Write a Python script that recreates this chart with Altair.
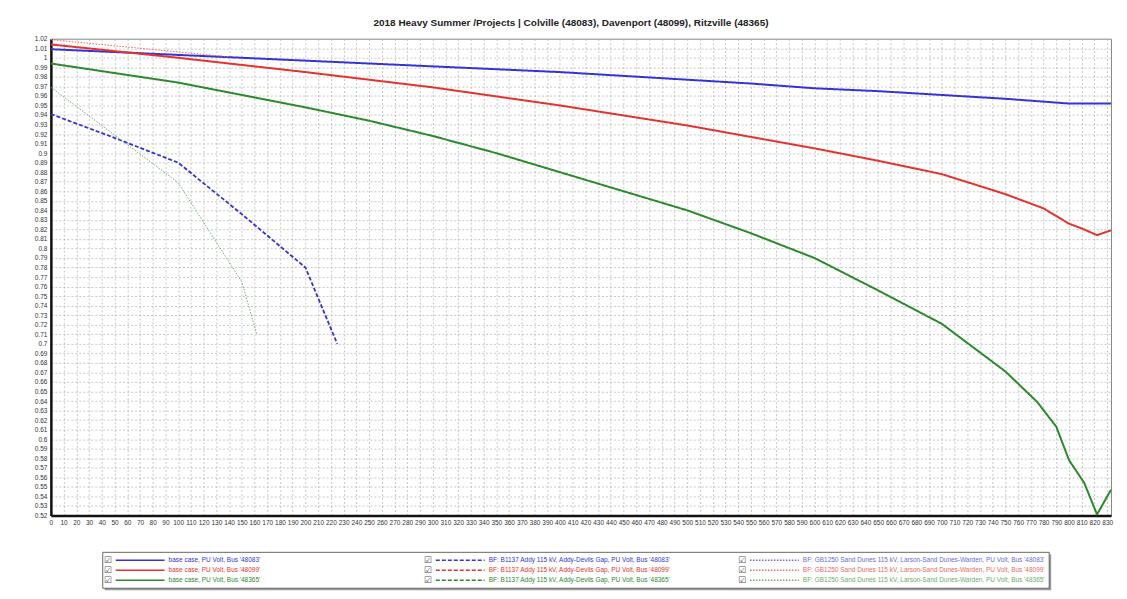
import altair as alt
import pandas as pd

TITLE = "2018 Heavy Summer /Projects | Colville (48083), Davenport (48099), Ritzville (48365)"

SERIES = [
    "base case, PU Volt, Bus '48083'",
    "base case, PU Volt, Bus '48099'",
    "base case, PU Volt, Bus '48365'",
    "BF: B1137 Addy 115 kV, Addy-Devils Gap, PU Volt, Bus '48083'",
    "BF: B1137 Addy 115 kV, Addy-Devils Gap, PU Volt, Bus '48099'",
    "BF: B1137 Addy 115 kV, Addy-Devils Gap, PU Volt, Bus '48365'",
    "BF: GB1250 Sand Dunes 115 kV, Larson-Sand Dunes-Warden, PU Volt, Bus '48083'",
    "BF: GB1250 Sand Dunes 115 kV, Larson-Sand Dunes-Warden, PU Volt, Bus '48099'",
    "BF: GB1250 Sand Dunes 115 kV, Larson-Sand Dunes-Warden, PU Volt, Bus '48365'",
]
COLORS = ["#3434d6", "#e2332f", "#2b8a2b",
          "#3434d6", "#e2332f", "#2b8a2b",
          "#6a6ae0", "#e86a66", "#6aae6a"]
DASHES = [[1, 0], [1, 0], [1, 0],
          [4, 2], [4, 2], [4, 2],
          [1.5, 1.5], [1.5, 1.5], [1.5, 1.5]]
WIDTHS = [2, 2, 2, 1.8, 1.8, 1.8, 1, 1, 1]

# base case, Bus 48083
base_48083_x = [0, 50, 100, 150, 200, 250, 300, 350, 400, 450, 500, 550, 600, 650, 700, 750, 790, 800, 833]
base_48083_y = [1.009, 1.006, 1.003, 1.000, 0.997, 0.994, 0.991, 0.988, 0.985, 0.981, 0.977, 0.973, 0.968, 0.965, 0.961, 0.957, 0.953, 0.952, 0.952]
# base case, Bus 48099
base_48099_x = [0, 100, 200, 300, 400, 500, 600, 650, 700, 750, 780, 800, 810, 822, 833]
base_48099_y = [1.014, 1.000, 0.985, 0.969, 0.950, 0.929, 0.905, 0.892, 0.878, 0.857, 0.842, 0.826, 0.821, 0.814, 0.819]
# base case, Bus 48365
base_48365_x = [0, 50, 100, 150, 200, 250, 300, 350, 400, 450, 500, 550, 600, 650, 700, 750, 775, 790, 800, 812, 822, 833]
base_48365_y = [0.994, 0.984, 0.974, 0.961, 0.948, 0.934, 0.918, 0.900, 0.880, 0.860, 0.840, 0.816, 0.790, 0.756, 0.721, 0.671, 0.639, 0.613, 0.578, 0.554, 0.521, 0.547]
# BF: B1137, Bus 48083
b1137_48083_x = [0, 50, 100, 150, 200, 225]
b1137_48083_y = [0.941, 0.916, 0.890, 0.836, 0.780, 0.700]
# BF: GB1250, Bus 48099
gb1250_48099_x = [0, 140]
gb1250_48099_y = [1.019, 1.001]
# BF: GB1250, Bus 48365
gb1250_48365_x = [0, 100, 150, 162]
gb1250_48365_y = [0.969, 0.869, 0.765, 0.709]

CURVES = [
    (SERIES[0], base_48083_x, base_48083_y),
    (SERIES[1], base_48099_x, base_48099_y),
    (SERIES[2], base_48365_x, base_48365_y),
    (SERIES[3], b1137_48083_x, b1137_48083_y),
    (SERIES[7], gb1250_48099_x, gb1250_48099_y),
    (SERIES[8], gb1250_48365_x, gb1250_48365_y),
]

X_TICKS = list(range(0, 831, 10))
Y_TICKS = [round(0.52 + i * 0.01, 2) for i in range(51)]

rows = []
for name, xs, ys in CURVES:
    w = WIDTHS[SERIES.index(name)]
    for a, b in zip(xs, ys):
        rows.append({"series": name, "x": a, "y": b, "w": w})
df = pd.DataFrame(rows)

PLOT_W = 1063
PLOT_H = 478
FONT = "Liberation Sans"

color_scale = alt.Scale(domain=SERIES, range=COLORS)
dash_scale = alt.Scale(domain=SERIES, range=DASHES)

main = alt.Chart(df).mark_line(clip=True).encode(
    x=alt.X("x:Q",
            scale=alt.Scale(domain=[0, 833], nice=False, zero=False),
            axis=alt.Axis(values=X_TICKS, title=None, labelOverlap=False,
                          labelFontSize=6.5, labelColor="#333", ticks=False,
                          labelPadding=4, domainColor="#111", domainWidth=2.5,
                          gridColor="#b0b0b0", gridDash=[2, 2], gridWidth=0.7,
                          labelFlush=False)),
    y=alt.Y("y:Q",
            scale=alt.Scale(domain=[0.52, 1.02], nice=False, zero=False),
            axis=alt.Axis(values=Y_TICKS, title=None, labelOverlap=False,
                          labelExpr="format(datum.value, '.2~f')",
                          labelFontSize=6.5, labelColor="#333", ticks=False,
                          labelPadding=4, domainColor="#111", domainWidth=2.5,
                          gridColor="#b0b0b0", gridDash=[2, 2], gridWidth=0.7,
                          labelFlush=False)),
    color=alt.Color("series:N", scale=color_scale, legend=None),
    strokeDash=alt.StrokeDash("series:N", scale=dash_scale, legend=None),
    strokeWidth=alt.StrokeWidth("w:Q", scale=None),
    order="x:Q",
).properties(
    width=PLOT_W, height=PLOT_H,
    title=alt.TitleParams(TITLE, fontSize=10, fontWeight="bold", font=FONT,
                          color="#222", offset=8, dx=-10),
    view=alt.ViewBackground(stroke="#888", strokeWidth=1),
)

# ---- custom legend box (3 x 3 grid) ----
LEG_H = 36
LEG_BOX = [52, 1001]
LEG_COL_X = [57, 378, 693]
LEG_ROW_Y = [8, 18, 28]

leg_rows = []
for i, name in enumerate(SERIES):
    c, r = i // 3, i % 3
    cx = LEG_COL_X[c]
    leg_rows.append({"series": name, "cb": cx, "x1": cx + 8, "x2": cx + 57,
                     "tx": cx + 61, "ty": LEG_ROW_Y[r], "mark": "\u2611"})
leg_df = pd.DataFrame(leg_rows)
box_df = pd.DataFrame([{"x1": LEG_BOX[0], "x2": LEG_BOX[1], "y1": 0, "y2": LEG_H,
                        "sx1": LEG_BOX[0] + 2, "sx2": LEG_BOX[1] + 2, "sy1": 2, "sy2": LEG_H + 2}])

lx = alt.Scale(domain=[0, PLOT_W], range=[0, PLOT_W], nice=False, zero=False)
ly = alt.Scale(domain=[0, LEG_H], range=[0, LEG_H], nice=False, zero=False)

shadow = alt.Chart(box_df).mark_rect(fill="#9a9a9a").encode(
    x=alt.X("sx1:Q", scale=lx, axis=None), x2="sx2:Q",
    y=alt.Y("sy1:Q", scale=ly, axis=None), y2="sy2:Q")
box = alt.Chart(box_df).mark_rect(fill="white", stroke="#666", strokeWidth=1).encode(
    x=alt.X("x1:Q", scale=lx, axis=None), x2="x2:Q",
    y=alt.Y("y1:Q", scale=ly, axis=None), y2="y2:Q")
checks = alt.Chart(leg_df).mark_text(fontSize=9, font="DejaVu Sans", color="#555",
                                      align="center", baseline="middle").encode(
    x=alt.X("cb:Q", scale=lx, axis=None),
    y=alt.Y("ty:Q", scale=ly, axis=None),
    text="mark:N")
samples = alt.Chart(leg_df).mark_rule().encode(
    x=alt.X("x1:Q", scale=lx, axis=None), x2="x2:Q",
    y=alt.Y("ty:Q", scale=ly, axis=None),
    color=alt.Color("series:N", scale=color_scale, legend=None),
    strokeDash=alt.StrokeDash("series:N", scale=dash_scale, legend=None),
    strokeWidth=alt.value(1.5))
labels = alt.Chart(leg_df).mark_text(fontSize=6.5, font=FONT, align="left",
                                      baseline="middle").encode(
    x=alt.X("tx:Q", scale=lx, axis=None),
    y=alt.Y("ty:Q", scale=ly, axis=None),
    text="series:N",
    color=alt.Color("series:N", scale=color_scale, legend=None))

legend = alt.layer(shadow, box, checks, samples, labels).properties(
    width=PLOT_W, height=LEG_H,
    view=alt.ViewBackground(stroke=None, strokeWidth=0),
)

chart = alt.vconcat(main, legend, spacing=25).properties(
    padding={"left": 25, "top": 8, "right": 5, "bottom": 5},
).configure(
    font=FONT,
).configure_view(
    stroke="#888",
)

chart.save("out.html", embed_options={"renderer": "svg", "actions": False})
